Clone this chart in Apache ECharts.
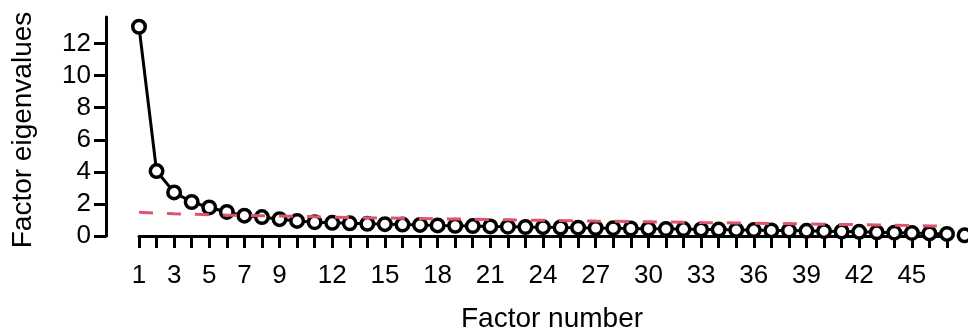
<!DOCTYPE html>
<html>
<head>
<meta charset="utf-8">
<script src="https://cdn.jsdelivr.net/npm/echarts@6/dist/echarts.min.js"></script>
<style>html,body{margin:0;padding:0;background:#fff;}#c{width:968px;height:331px;}</style>
</head>
<body>
<div id="c"></div>
<script>
const factors = [1,2,3,4,5,6,7,8,9,10,11,12,13,14,15,16,17,18,19,20,21,22,23,24,25,26,27,28,29,30,31,32,33,34,35,36,37,38,39,40,41,42,43,44,45,46,47,48];
const eigenvalues = [13.05,4.05,2.72,2.12,1.78,1.50,1.27,1.18,1.05,0.94,0.86,0.82,0.79,0.76,0.74,0.71,0.69,0.66,0.64,0.62,0.60,0.58,0.56,0.55,0.53,0.52,0.50,0.49,0.47,0.46,0.44,0.43,0.41,0.40,0.38,0.37,0.35,0.34,0.32,0.30,0.28,0.26,0.23,0.21,0.19,0.16,0.13,0.04];
const simulated = [1.48,1.43,1.39,1.36,1.33,1.30,1.28,1.26,1.24,1.22,1.20,1.18,1.16,1.14,1.12,1.11,1.09,1.07,1.06,1.04,1.02,1.01,0.99,0.98,0.96,0.95,0.93,0.92,0.90,0.89,0.87,0.86,0.84,0.83,0.81,0.80,0.78,0.77,0.75,0.74,0.72,0.71,0.69,0.67,0.65,0.63,0.61,0.58];
const xTickLabels = [1,3,5,7,9,12,15,18,21,24,27,30,33,36,39,42,45];
const xTicks = factors.slice(0, 47);
const yTickLabels = [0,2,4,6,8,10,12];

const font = 'Liberation Sans, Arial, Helvetica, sans-serif';
const chart = echarts.init(document.getElementById('c'), null, {renderer: 'canvas'});
chart.setOption({
  animation: false,
  backgroundColor: '#ffffff',
  grid: {left: 139, right: 21, top: 17, bottom: 95, containLabel: false, outerBoundsMode: 'none'},
  xAxis: {
    type: 'value', min: 1, max: 47, offset: 6,
    name: 'Factor number', nameLocation: 'middle', nameGap: 63,
    nameTextStyle: {fontFamily: font, fontSize: 28, color: '#000', padding: [0,0,0,18]},
    axisLine: {show: true, lineStyle: {color: '#000', width: 3}},
    axisTick: {show: true, length: 12, lineStyle: {color: '#000', width: 3}, customValues: xTicks},
    axisLabel: {show: true, margin: 21, fontFamily: font, fontSize: 26, color: '#000', customValues: xTickLabels},
    splitLine: {show: false}
  },
  yAxis: {
    type: 'value', min: 0, max: 13.66, offset: 33,
    name: 'Factor eigenvalues', nameLocation: 'middle', nameGap: 69, nameRotate: 90,
    nameTextStyle: {fontFamily: font, fontSize: 28, color: '#000', padding: [0,7,0,0]},
    axisLine: {show: true, lineStyle: {color: '#000', width: 3}},
    axisTick: {show: true, length: 12, lineStyle: {color: '#000', width: 3}, customValues: yTickLabels},
    axisLabel: {show: true, margin: 15, fontFamily: font, fontSize: 26, color: '#000', customValues: yTickLabels},
    splitLine: {show: false}
  },
  series: [
    {
      type: 'line', clip: false, z: 2,
      data: factors.map((f, i) => [f, eigenvalues[i]]),
      symbol: 'circle', symbolSize: 12.5, showSymbol: true,
      lineStyle: {color: '#000', width: 3},
      itemStyle: {color: '#ffffff', borderColor: '#000', borderWidth: 3.5},
      emphasis: {disabled: true}
    },
    {
      type: 'line', clip: false, z: 3,
      data: factors.map((f, i) => [f, simulated[i]]),
      symbol: 'none',
      lineStyle: {color: '#DF536B', width: 3, type: [14, 14], cap: 'butt'},
      emphasis: {disabled: true}
    }
  ]
});
</script>
</body>
</html>
